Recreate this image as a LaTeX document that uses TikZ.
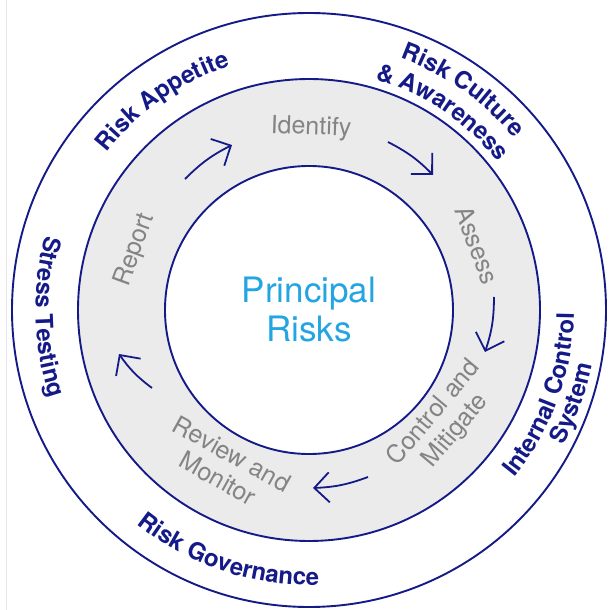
\documentclass[tikz,border=0pt]{standalone}
\usepackage{fontspec}
\setmainfont{TeX Gyre Heros}
\usetikzlibrary{decorations.text, arrows.meta}
\definecolor{navy}{RGB}{20,26,135}
\definecolor{band}{RGB}{235,235,235}
\definecolor{stagegray}{RGB}{132,132,132}
\definecolor{core}{RGB}{35,165,225}
\definecolor{edge}{RGB}{226,231,238}
\newcommand\lblfont{\fontsize{24}{26}\selectfont\bfseries}

\begin{document}
\begin{tikzpicture}[x=1pt,y=1pt,
  ring/.style={draw=navy, line width=1.9pt},
  flow/.style={draw=navy, line width=1.8pt, -{Straight Barb[length=15pt,width=30pt]}, bend left=9},
  stage/.style={text=stagegray, font=\fontsize{25}{28}\selectfont, align=center, inner sep=0pt},
]
% canvas
\fill[white] (-309,-300) rectangle (299,310);
\useasboundingbox (-309,-300) rectangle (299,310);
\draw[edge, line width=1pt] (-302,-300) -- (-302,310);

% rings
\fill[band, even odd rule] (0,0) circle[radius=231] (0,0) circle[radius=144];
\draw[ring] (0,0) circle[radius=297];
\draw[ring] (0,0) circle[radius=231];
\draw[ring] (0,0) circle[radius=144];

% centre
\node[text=core, font=\fontsize{35}{39}\selectfont, align=center, inner sep=0pt] (principal) at (0,0) {Principal\\Risks};

% process stages
\node[stage, rotate=-2] (identify) at (2,182) {Identify};
\node[stage, rotate=-69] (assess) at (168,65) {Assess};
\node[stage, rotate=50] (control) at (136,-112) {Control and\\Mitigate};
\node[stage, rotate=-29] (review) at (-84,-156) {Review and\\Monitor};
\node[stage, rotate=70] (report) at (-174,60) {Report};

% cycle arrows
\coordinate (a1s) at (-124,131); \coordinate (a1e) at (-77,165);
\coordinate (a2s) at (79,168);   \coordinate (a2e) at (124,135);
\coordinate (a3s) at (185,13);   \coordinate (a3e) at (176,-42);
\coordinate (a4s) at (59,-167);  \coordinate (a4e) at (4,-178);
\coordinate (a5s) at (-157,-78); \coordinate (a5e) at (-190,-44);
\draw[flow] (a1s) to (a1e);
\draw[flow] (a2s) to (a2e);
\draw[flow] (a3s) to (a3e);
\draw[flow] (a4s) to (a4e);
\draw[flow] (a5s) to (a5e);

% outer ring labels
\path[decorate, decoration={text along path, text align=center, text color=navy,
  text={|\lblfont|Risk Appetite}}]
  (185:256.5) arc[start angle=185, end angle=65, radius=256.5];
\path[decorate, decoration={text along path, text align=center, text color=navy,
  text={|\lblfont|Risk Culture}}]
  (115:268) arc[start angle=115, end angle=-5, radius=268];
\path[decorate, decoration={text along path, text align=center, text color=navy,
  text={|\lblfont|{\&} Awareness}}]
  (116:240) arc[start angle=116, end angle=-4, radius=240];
\path[decorate, decoration={text along path, text align=center, text color=navy,
  text={|\lblfont|Internal Control}}]
  (-80:265) arc[start angle=-80, end angle=40, radius=265];
\path[decorate, decoration={text along path, text align=center, text color=navy,
  text={|\lblfont|System}}]
  (-79.5:288) arc[start angle=-79.5, end angle=40.5, radius=288];
\path[decorate, decoration={text along path, text align=center, text color=navy,
  text={|\lblfont|Stress Testing}}]
  (121.5:273.5) arc[start angle=121.5, end angle=241.5, radius=273.5];
\path[decorate, decoration={text along path, text align=center, text color=navy,
  text={|\lblfont|Risk Governance}}]
  (191.7:275) arc[start angle=191.7, end angle=311.7, radius=275];
\end{tikzpicture}
\end{document}
